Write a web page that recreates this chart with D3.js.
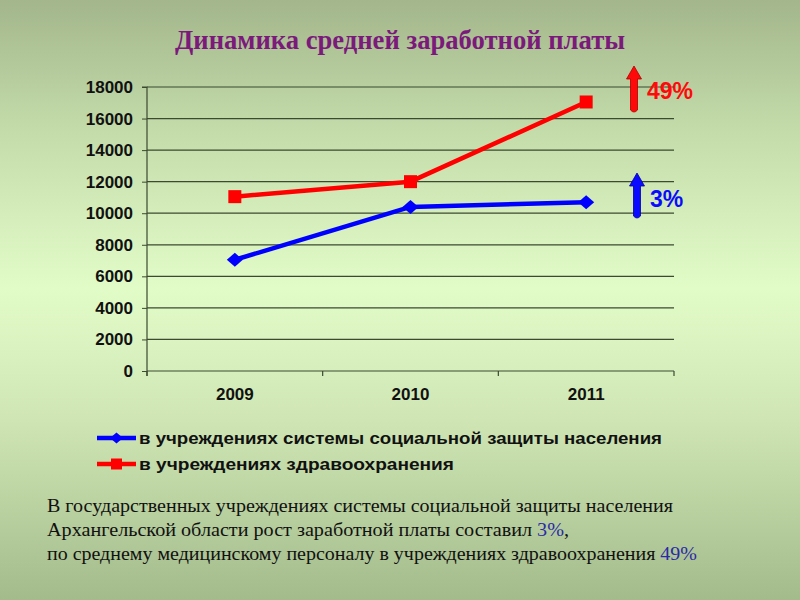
<!DOCTYPE html>
<html><head><meta charset="utf-8">
<script src="https://cdn.jsdelivr.net/npm/d3@7"></script>
<style>body{margin:0;padding:0;overflow:hidden}svg{display:block}</style>
</head><body>
<script>
const years = ["2009", "2010", "2011"];
const socialValues = [7050, 10400, 10700];
const healthValues = [11050, 12000, 17050];
const yTicks = [0, 2000, 4000, 6000, 8000, 10000, 12000, 14000, 16000, 18000];
const seriesNames = ["в учреждениях системы социальной защиты населения", "в учреждениях здравоохранения"];
const growthLabels = ["3%", "49%"];
const titleText = "Динамика средней заработной платы";
const noteLines = [
  [{t:"В государственных учреждениях системы социальной защиты населения"}],
  [{t:"Архангельской области рост заработной платы составил "},{t:"3%", c:"blue"},{t:","}],
  [{t:"по среднему медицинскому персоналу в учреждениях здравоохранения "},{t:"49%", c:"blue"}]
];

(function(){
const W = 800, H = 600;
const svg = d3.select("body").append("svg").attr("width", W).attr("height", H);
const defs = svg.append("defs");
const bg = defs.append("linearGradient").attr("id","bg").attr("x1",0).attr("y1",0).attr("x2",0).attr("y2",1);
bg.append("stop").attr("offset","0%").attr("stop-color","#a3b68c");
bg.append("stop").attr("offset","22%").attr("stop-color","#c4dcaa");
bg.append("stop").attr("offset","48%").attr("stop-color","#e2fcc8");
bg.append("stop").attr("offset","70%").attr("stop-color","#cfe6b4");
bg.append("stop").attr("offset","100%").attr("stop-color","#a3ba8b");
svg.append("rect").attr("width",W).attr("height",H).attr("fill","url(#bg)");

// title
svg.append("text").attr("x",400).attr("y",49).attr("text-anchor","middle")
  .attr("font-family","Liberation Serif, serif").attr("font-weight","bold").attr("font-size",28)
  .attr("fill","#7b1a7b").attr("textLength",450).attr("lengthAdjust","spacingAndGlyphs").text(titleText);

const pl = 147, pr = 674, pt = 87, pb = 371;
const x = d3.scaleBand().domain(years).range([pl, pr]);
const y = d3.scaleLinear().domain([0, 18000]).range([pb, pt]);
const gridColor = "#3b4a30";

const g = svg.append("g");
g.selectAll("line.grid").data(yTicks.filter(d=>d>0)).enter().append("line")
  .attr("x1", pl).attr("x2", pr).attr("y1", d=>y(d)).attr("y2", d=>y(d))
  .attr("stroke", gridColor).attr("stroke-width",1.2);

const yAxis = g.append("g").attr("transform",`translate(${pl},0)`)
  .call(d3.axisLeft(y).tickValues(yTicks).tickSize(5).tickPadding(9).tickFormat(d3.format("d")));
yAxis.select(".domain").attr("stroke",gridColor).attr("stroke-width",1.2).attr("d",`M-5,${pt}H0V${pb+5}`);
yAxis.selectAll(".tick line").attr("stroke",gridColor);
yAxis.selectAll("text").attr("font-family","Liberation Sans, Arial, sans-serif").attr("font-weight","bold")
  .attr("font-size",17).attr("fill","#111");

const xAxis = g.append("g").attr("transform",`translate(0,${pb})`)
  .call(d3.axisBottom(x).tickSize(0).tickPadding(17));
xAxis.select(".domain").attr("stroke",gridColor).attr("stroke-width",1.2).attr("d",`M${pl},0H${pr}`);
xAxis.selectAll("text").attr("font-family","Liberation Sans, Arial, sans-serif").attr("font-weight","bold")
  .attr("font-size",17).attr("fill","#111");
const bounds = years.map(d=>x(d)).concat([pr]);
xAxis.selectAll("line.bt").data(bounds).enter().append("line")
  .attr("x1",d=>d).attr("x2",d=>d).attr("y1",0).attr("y2",5).attr("stroke",gridColor).attr("stroke-width",1.2);

const cx = d => x(d) + x.bandwidth()/2;
const line = d3.line().x((d,i)=>cx(years[i])).y(d=>y(d));
const diamondPath = (w,h) => `M0,${-h}L${w},0L0,${h}L${-w},0Z`;
const squarePath = s => `M${-s},${-s}H${s}V${s}H${-s}Z`;

function series(vals, color, shape) {
  g.append("path").datum(vals).attr("d", line).attr("fill","none").attr("stroke",color).attr("stroke-width",4.5)
    .attr("stroke-linejoin","round");
  g.selectAll(null).data(vals).enter().append("path")
    .attr("transform",(d,i)=>`translate(${cx(years[i])},${y(d)})`).attr("d", shape).attr("fill",color);
}
series(socialValues, "#0000ff", diamondPath(8,7));
series(healthValues, "#ff0000", squarePath(6.5));

// legend
const legend = svg.append("g");
const lg = [{name:seriesNames[0], color:"#0000ff", y:438, shape:diamondPath(6.5,5.5)},{name:seriesNames[1], color:"#ff0000", y:464, shape:squarePath(5.5)}];
lg.forEach((d,i)=>{
  legend.append("line").attr("x1",97).attr("x2",136).attr("y1",d.y).attr("y2",d.y).attr("stroke",d.color).attr("stroke-width",4.5);
  legend.append("path").attr("transform",`translate(116.5,${d.y})`).attr("d",d.shape).attr("fill",d.color);
  legend.append("text").attr("x",139).attr("y",d.y+6).attr("font-family","Liberation Sans, Arial, sans-serif")
    .attr("font-weight","bold").attr("font-size",16.5).attr("fill","#111")
    .attr("textLength", i ? 315 : 523).attr("lengthAdjust","spacingAndGlyphs").text(d.name);
});

// growth arrows
function arrow(xc, y0, y1, color, dark, label, tx, ty) {
  const a = svg.append("g");
  a.append("path").attr("d",`M${xc-3.5},${y0-2} L${xc-3.5},${y1+13} L${xc-7.5},${y1+13} L${xc},${y1} L${xc+7.5},${y1+13} L${xc+3.5},${y1+13} L${xc+3.5},${y0-2} Q${xc},${y0+2} ${xc-3.5},${y0-2} Z`)
    .attr("fill",color).attr("stroke",dark).attr("stroke-width",0.8);
  a.append("text").attr("x",tx).attr("y",ty).attr("font-family","Liberation Sans, Arial, sans-serif").attr("font-weight","bold")
    .attr("font-size",23).attr("fill",color).text(label);
}
arrow(634, 112, 66, "#ff0a0a", "#b00000", growthLabels[1], 647, 99);
arrow(637, 218, 173, "#0a0aff", "#0000a0", growthLabels[0], 650, 207);

// note text
const note = svg.append("g").attr("font-family","Liberation Serif, Times New Roman, serif").attr("font-size",19).attr("fill","#111");
const lens = [626, 522, 650];
noteLines.forEach((parts,i)=>{
  const t = note.append("text").attr("x",47).attr("y",512+i*24).attr("textLength",lens[i]).attr("lengthAdjust","spacingAndGlyphs");
  parts.forEach(p=>t.append("tspan").attr("fill", p.c ? "#2a2aa8" : "#111").text(p.t));
});
})();
</script>
</body></html>
